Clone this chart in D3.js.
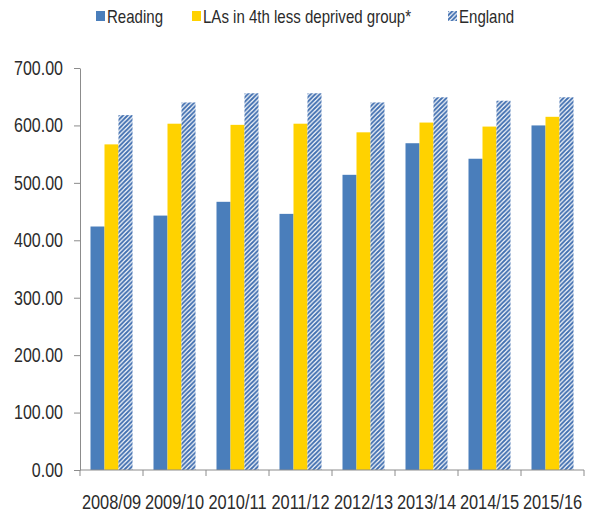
<!DOCTYPE html>
<html>
<head>
<meta charset="utf-8">
<script src="https://cdn.jsdelivr.net/npm/d3@7"></script>
<style>
  body { margin: 0; background: #fff; }
  svg text { font-family: "Liberation Sans", Arial, sans-serif; fill: #2b2b2b; }
</style>
</head>
<body>
<svg id="chart" width="593" height="516"></svg>
<script>
// values
var years = ["2008/09", "2009/10", "2010/11", "2011/12", "2012/13", "2013/14", "2014/15", "2015/16"];
var seriesNames = ["Reading", "LAs in 4th less deprived group*", "England"];
var reading = [424, 443, 467, 446, 514, 569, 542, 600];
var laGroup = [567, 603, 601, 603, 588, 605, 598, 615];
var england = [618, 640, 656, 656, 640, 649, 643, 649];
var yTicks = [0, 100, 200, 300, 400, 500, 600, 700];

var blue = "#4a7ebb", yellow = "#ffd200";
var narrow = 0.8; // squeeze Liberation Sans to look like a narrow face

var svg = d3.select("#chart");

// hatch for England
var defs = svg.append("defs");
var pat = defs.append("pattern")
    .attr("id", "hatch")
    .attr("patternUnits", "userSpaceOnUse")
    .attr("width", 4.5).attr("height", 4.5);
pat.append("rect").attr("width", 4.5).attr("height", 4.5).attr("fill", "#fff");
pat.append("path")
    .attr("d", "M-1,1 l2,-2 M0,4.5 l4.5,-4.5 M3.5,5.5 l2,-2")
    .attr("stroke", "#416fb0").attr("stroke-width", 2);

var plotL = 80, plotR = 584, plotT = 68, plotB = 470;

var x0 = d3.scaleBand().domain(years).range([plotL, plotR]).padding(0); // category slots
var x1 = d3.scaleBand().domain(seriesNames).range([0, 42]).padding(0);
var y = d3.scaleLinear().domain([0, 700]).range([plotB, plotT]);

var fills = [blue, yellow, "url(#hatch)"];
var values = [reading, laGroup, england];

// bars
values.forEach(function (vals, s) {
    svg.append("g").selectAll("rect")
        .data(vals)
        .enter().append("rect")
        .attr("x", function (d, i) { return x0(years[i]) + (x0.bandwidth() - 42) / 2 + x1(seriesNames[s]); })
        .attr("width", x1.bandwidth())
        .attr("y", function (d) { return y(d); })
        .attr("height", function (d) { return y(0) - y(d); })
        .attr("fill", fills[s]);
});

// y axis
var yAxis = svg.append("g")
    .attr("transform", "translate(" + plotL + ",0)")
    .call(d3.axisLeft(y).tickValues(yTicks).tickFormat(d3.format(".2f")).tickSize(6).tickSizeOuter(0).tickPadding(11));
yAxis.select(".domain").attr("stroke", "#8c8c8c");
yAxis.selectAll(".tick line").attr("stroke", "#8c8c8c");
yAxis.selectAll("text")
    .attr("x", -17 / narrow)
    .attr("transform", "scale(" + narrow + ",1)")
    .style("font-size", "20px").attr("fill", "#2b2b2b");

// x axis: line plus ticks between categories
var xg = svg.append("g");
xg.append("line")
    .attr("x1", plotL).attr("x2", plotR)
    .attr("y1", plotB).attr("y2", plotB)
    .attr("stroke", "#8c8c8c");
xg.selectAll(".xt")
    .data(years.concat(["end"]))
    .enter().append("line")
    .attr("x1", function (d, i) { return plotL + i * x0.step(); })
    .attr("x2", function (d, i) { return plotL + i * x0.step(); })
    .attr("y1", plotB).attr("y2", plotB + 6)
    .attr("stroke", "#8c8c8c");
xg.selectAll(".xl")
    .data(years)
    .enter().append("text")
    .attr("transform", function (d) {
        return "translate(" + (x0(d) + x0.bandwidth() / 2) + "," + (plotB + 39) + ") scale(" + narrow + ",1)";
    })
    .attr("text-anchor", "middle")
    .style("font-size", "20.5px")
    .text(function (d) { return d; });

// legend
var legend = [
    { name: seriesNames[0], fill: blue, x: 96 },
    { name: seriesNames[1], fill: yellow, x: 192 },
    { name: seriesNames[2], fill: "url(#hatch)", x: 448 }
];
var lg = svg.append("g").selectAll("g").data(legend).enter().append("g");
lg.append("rect")
    .attr("x", function (d) { return d.x; })
    .attr("y", 11).attr("width", 9).attr("height", 10)
    .attr("fill", function (d) { return d.fill; });
lg.append("text")
    .attr("transform", function (d) { return "translate(" + (d.x + 11) + ",23) scale(" + narrow + ",1)"; })
    .style("font-size", "18.8px")
    .text(function (d) { return d.name; });
</script>
</body>
</html>
